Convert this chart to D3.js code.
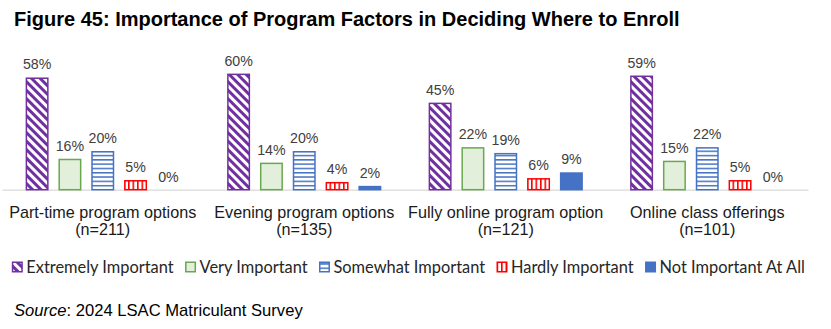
<!DOCTYPE html>
<html>
<head>
<meta charset="utf-8">
<script src="https://cdn.jsdelivr.net/npm/d3@7/dist/d3.min.js"></script>
<style>
  html, body { margin: 0; padding: 0; background: #fff; }
  svg { display: block; }
</style>
</head>
<body>
<svg id="chart" width="831" height="329"></svg>
<script>
// Survey responses: share of matriculants rating each program factor
const categories = [
  "Part-time program options",
  "Evening program options",
  "Fully online program option",
  "Online class offerings"
];
const sampleSizes = ["(n=211)", "(n=135)", "(n=121)", "(n=101)"];
const seriesNames = [
  "Extremely Important",
  "Very Important",
  "Somewhat Important",
  "Hardly Important",
  "Not Important At All"
];
const extremelyImportant = [58, 60, 45, 59];
const veryImportant      = [16, 14, 22, 15];
const somewhatImportant  = [20, 20, 19, 22];
const hardlyImportant    = [5, 4, 6, 5];
const notImportantAtAll  = [0, 2, 9, 0];
const seriesValues = [extremelyImportant, veryImportant, somewhatImportant, hardlyImportant, notImportantAtAll];

const titleText = "Figure 45: Importance of Program Factors in Deciding Where to Enroll";
const sourceLabel = "Source";
const sourceText = ": 2024 LSAC Matriculant Survey";

const svg = d3.select("#chart");
const defs = svg.append("defs");

// Fill patterns for each series
function stripePattern(id, color, period, thick, angle) {
  const p = defs.append("pattern")
    .attr("id", id)
    .attr("patternUnits", "userSpaceOnUse")
    .attr("width", period).attr("height", period)
    .attr("patternTransform", `rotate(${angle})`);
  p.append("rect").attr("width", period).attr("height", period).attr("fill", "#fff");
  p.append("rect").attr("x", 0).attr("y", 0).attr("width", thick).attr("height", period).attr("fill", color);
}
stripePattern("pat-extreme", "#7030A0", 6, 3, -45);
stripePattern("pat-somewhat", "#4472C4", 4.3, 1.5, 90);
stripePattern("pat-hardly", "#FF0000", 4.5, 1.6, 0);

const styles = [
  { fill: "url(#pat-extreme)", stroke: "#7030A0" },
  { fill: "#E2EFDA", stroke: "#6AA84F" },
  { fill: "url(#pat-somewhat)", stroke: "#4472C4" },
  { fill: "url(#pat-hardly)", stroke: "#FF0000" },
  { fill: "#4472C4", stroke: "#4472C4" }
];

// Scales
const baseY = 189.7;
const x0 = d3.scaleBand().domain(categories).range([2, 808]).padding(0);
const x1 = d3.scaleBand().domain(seriesNames).range([0, x0.bandwidth()])
  .paddingInner(0.3).paddingOuter(0.72);
const y = d3.scaleLinear().domain([0, 70]).range([baseY, baseY - 70 * 1.935]);

// Title
svg.append("text")
  .attr("x", 14).attr("y", 26)
  .attr("font-family", "Liberation Sans, Arial, sans-serif")
  .attr("font-weight", "bold").attr("font-size", 20)
  .attr("fill", "#000")
  .text(titleText);

// Category axis
const axis = svg.append("g").attr("transform", `translate(0,${baseY})`)
  .call(d3.axisBottom(x0).tickSize(0).tickFormat(""));
axis.select(".domain").attr("stroke", "#D9D9D9").attr("stroke-width", 1.3);

// Category labels
const catLabels = svg.append("g")
  .attr("font-family", "Liberation Sans, Arial, sans-serif")
  .attr("font-size", 16.2).attr("fill", "#1a1a1a").attr("text-anchor", "middle");
categories.forEach((c, i) => {
  const cx = x0(c) + x0.bandwidth() / 2;
  catLabels.append("text").attr("x", cx).attr("y", 218).text(c);
  catLabels.append("text").attr("x", cx).attr("y", 235).text(sampleSizes[i]);
});

// Bars
const groups = svg.append("g").selectAll("g")
  .data(categories).join("g")
  .attr("transform", d => `translate(${x0(d)},0)`);

groups.each(function (cat, ci) {
  const g = d3.select(this);
  seriesNames.forEach((s, si) => {
    const v = seriesValues[si][ci];
    if (v > 0) {
      g.append("rect")
        .attr("x", x1(s) + 0.75)
        .attr("y", y(v) + 0.75)
        .attr("width", x1.bandwidth() - 1.5)
        .attr("height", Math.max(0, y(0) - y(v) - 0.75))
        .attr("fill", styles[si].fill)
        .attr("stroke", styles[si].stroke)
        .attr("stroke-width", 1.5);
    }
    g.append("text")
      .attr("x", x1(s) + x1.bandwidth() / 2)
      .attr("y", y(v) - 8)
      .attr("text-anchor", "middle")
      .attr("font-family", "Liberation Sans, Arial, sans-serif")
      .attr("font-size", 14.2)
      .attr("fill", "#404040")
      .text(v + "%");
  });
});

// Legend, centred under the plot
const legend = svg.append("g").attr("font-family", "Lato, sans-serif")
  .attr("font-size", 16.4).attr("fill", "#262626");
const items = legend.selectAll("g").data(seriesNames).join("g");
items.append("rect")
  .attr("x", 0.75).attr("y", -5.25).attr("width", 9.5).attr("height", 9.5)
  .attr("fill", (d, i) => styles[i].fill)
  .attr("stroke", (d, i) => styles[i].stroke).attr("stroke-width", 1.5);
items.append("text").attr("x", 14.5).attr("y", 5.5).text(d => d);
let cursor = 0;
const gap = 12;
items.each(function () {
  const w = this.getBBox().width;
  d3.select(this).attr("data-x", cursor);
  cursor += w + gap;
});
const total = cursor - gap;
const startX = 408 - total / 2;
items.attr("transform", function () {
  return `translate(${startX + +this.getAttribute("data-x")},267.5)`;
});

// Source note
const src = svg.append("text").attr("x", 14).attr("y", 316)
  .attr("font-family", "Liberation Sans, Arial, sans-serif")
  .attr("font-size", 16.6).attr("fill", "#000");
src.append("tspan").attr("font-style", "italic").text(sourceLabel);
src.append("tspan").text(sourceText);
</script>
</body>
</html>
